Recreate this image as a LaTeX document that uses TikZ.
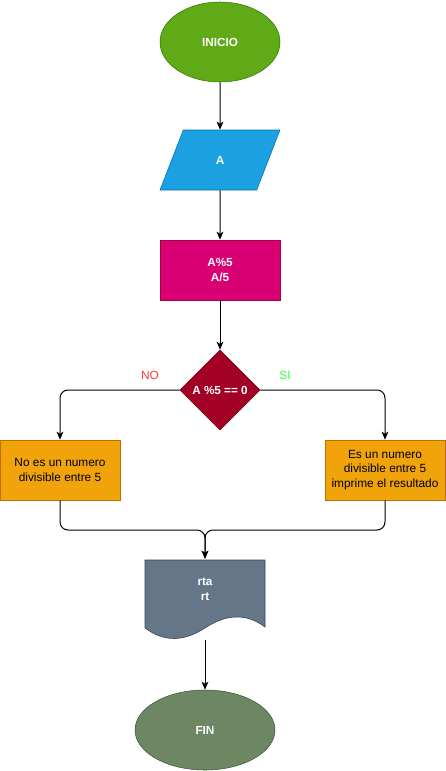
\documentclass[tikz,border=0pt]{standalone}
\usepackage{fontspec}
\setmainfont{Liberation Sans}
\usepackage{tikz}
\usetikzlibrary{shapes.geometric, arrows.meta, positioning, calc}
\definecolor{iniciogreen}{HTML}{60A917}
\definecolor{iniciodark}{HTML}{2D7600}
\definecolor{inputblue}{HTML}{1BA1E2}
\definecolor{inputdark}{HTML}{006EAF}
\definecolor{calcpink}{HTML}{D80073}
\definecolor{calcdark}{HTML}{A50040}
\definecolor{testred}{HTML}{A20025}
\definecolor{testdark}{HTML}{6F0000}
\definecolor{msgamber}{HTML}{F0A30A}
\definecolor{msgdark}{HTML}{BD7000}
\definecolor{docslate}{HTML}{647687}
\definecolor{docdark}{HTML}{314354}
\definecolor{finolive}{HTML}{6D8764}
\definecolor{findark}{HTML}{3A5431}
\definecolor{nored}{HTML}{FF3333}
\definecolor{sigreen}{HTML}{33FF33}

\tikzset{
  flow/.style={draw=black, line width=0.75pt, -{Stealth[length=6pt, width=5pt, inset=1.5pt]}},
  bold/.style={text=white, font=\fontsize{8.8}{11}\selectfont\bfseries},
  msgbox/.style={rectangle, fill=msgamber, draw=msgdark, minimum width=90pt, minimum height=45pt,
    inner sep=0pt, align=center, font=\fontsize{8.9}{10.9}\selectfont}
}

\begin{document}
\begin{tikzpicture}[x=0.75pt, y=-0.75pt]
  \useasboundingbox (0,0) rectangle (446,771);

  \node[ellipse, fill=iniciogreen, draw=iniciodark, minimum width=90pt, minimum height=60pt, bold] (inicio) at (220,42) {INICIO};
  \node[trapezium, trapezium left angle=71.6, trapezium right angle=108.4, trapezium stretches=true,
    fill=inputblue, draw=inputdark, minimum width=90pt, minimum height=45pt, inner sep=0pt, bold] (leer) at (220,160) {A};
  \node[rectangle, fill=calcpink, draw=calcdark, minimum width=90pt, minimum height=45pt, align=center, bold] (calc) at (220,270) {A\%5\\A/5};
  \node[diamond, fill=testred, draw=testdark, minimum width=60pt, minimum height=60pt, inner sep=0pt, bold] (test) at (220,390) {A \%5 == 0};

  \node[text=nored, font=\fontsize{8.9}{10}\selectfont] (nolabel) at (150,375) {NO};
  \node[text=sigreen, font=\fontsize{8.9}{10}\selectfont] (silabel) at (285,375) {SI};

  \node[msgbox] (nodiv) at (60,470) {No es un numero\\divisible entre 5};
  \node[msgbox] (sidiv) at (385,470) {Es un numero\\divisible entre 5\\imprime el resultado};

  % documento con borde ondulado
  \fill[docslate, draw=docdark] (145,560) -- (265,560) -- (265,627)
    .. controls (245,612) and (225,615) .. (205,628)
    .. controls (185,641) and (165,643) .. (145,628) -- cycle;
  \node[minimum width=90pt, minimum height=45pt, inner sep=0pt, align=center, bold] (doc) at (205,589) {rta\\rt};
  \coordinate (docend) at (205,640);
  \coordinate (join) at (205,530);

  \node[ellipse, fill=finolive, draw=findark, minimum width=105pt, minimum height=60pt, bold] (fin) at (205,730) {FIN};

  \draw[flow] (inicio) -- (leer);
  \draw[flow] (leer) -- (calc);
  \draw[flow] (calc) -- (test);
  \draw[flow, rounded corners=6pt] (test.west) -| (nodiv.north);
  \draw[flow, rounded corners=6pt] (test.east) -| (sidiv.north);
  \draw[flow, rounded corners=6pt] (nodiv.south) |- (join) -- (doc.north);
  \draw[flow, rounded corners=6pt] (sidiv.south) |- (join) -- (doc.north);
  \draw[flow] (docend) -- (fin);
\end{tikzpicture}
\end{document}
